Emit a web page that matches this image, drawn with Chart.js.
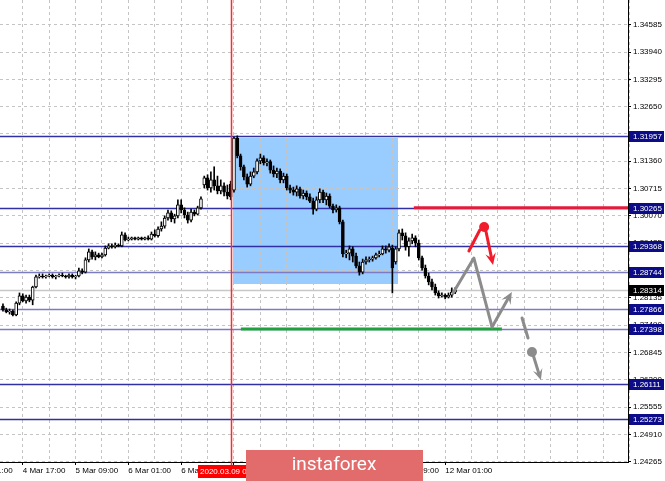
<!DOCTYPE html>
<html>
<head>
<meta charset="utf-8">
<script src="https://cdn.jsdelivr.net/npm/chart.js@4.4.1/dist/chart.umd.min.js"></script>
<style>
html, body { margin: 0; padding: 0; background: #fff; }
</style>
</head>
<body>
<canvas id="fxChart" width="665" height="481"></canvas>
<script>
// H1 candles, oldest first (bar index 0 = 4 Mar ~07:00)
const openP = [
  1.2794,1.2785,1.2780,1.2782,1.2773,1.2801,1.2818,1.2806,1.2815,1.2808,
  1.2839,1.2863,1.2865,1.2863,1.2865,1.2867,1.2863,1.2865,1.2867,1.2865,
  1.2863,1.2867,1.2863,1.2865,1.2877,1.2874,1.2903,1.2922,1.2910,1.2915,
  1.2910,1.2915,1.2931,1.2936,1.2934,1.2938,1.2936,1.2962,1.2950,1.2952,
  1.2955,1.2952,1.2955,1.2952,1.2955,1.2952,1.2964,1.2960,1.2976,1.2983,
  1.3002,1.3014,1.3000,1.3007,1.3033,1.3021,1.3009,1.2997,1.3016,1.3011,
  1.3026,1.3080,1.3097,1.3073,1.3092,1.3078,1.3066,1.3078,1.3063,1.3082,
  1.3068,1.3191,1.3149,1.3123,1.3099,1.3082,1.3101,1.3111,1.3137,1.3144,
  1.3132,1.3135,1.3115,1.3106,1.3113,1.3092,1.3101,1.3073,1.3068,1.3063,
  1.3071,1.3054,1.3061,1.3052,1.3042,1.3023,1.3045,1.3063,1.3045,1.3054,
  1.3030,1.3021,1.3026,1.2993,1.2917,1.2919,1.2929,1.2912,1.2889,1.2874,
  1.2898,1.2903,1.2905,1.2908,1.2915,1.2917,1.2929,1.2926,1.2931,1.2898,
  1.2929,1.2967,1.2960,1.2934,1.2948,1.2955,1.2943,1.2908,1.2884,1.2865,
  1.2851,1.2839,1.2825,1.2818,1.2820,1.2815,1.2820,1.2827
];
const highP = [
  1.2799,1.2789,1.2787,1.2785,1.2804,1.2825,1.2823,1.2820,1.2820,1.2841,
  1.2867,1.2870,1.2870,1.2867,1.2870,1.2870,1.2867,1.2870,1.2872,1.2867,
  1.2870,1.2870,1.2867,1.2884,1.2882,1.2908,1.2929,1.2926,1.2922,1.2919,
  1.2919,1.2936,1.2941,1.2941,1.2943,1.2941,1.2969,1.2967,1.2957,1.2957,
  1.2957,1.2957,1.2957,1.2957,1.2960,1.2969,1.2974,1.2981,1.2993,1.3007,
  1.3021,1.3019,1.3011,1.3045,1.3045,1.3026,1.3016,1.3023,1.3021,1.3030,
  1.3052,1.3101,1.3104,1.3111,1.3123,1.3101,1.3092,1.3085,1.3080,1.3089,
  1.3193,1.3196,1.3153,1.3127,1.3106,1.3111,1.3120,1.3142,1.3153,1.3149,
  1.3142,1.3139,1.3125,1.3120,1.3118,1.3108,1.3106,1.3080,1.3075,1.3078,
  1.3075,1.3068,1.3066,1.3059,1.3049,1.3052,1.3071,1.3068,1.3061,1.3059,
  1.3035,1.3033,1.3030,1.2997,1.2926,1.2936,1.2934,1.2919,1.2898,1.2905,
  1.2910,1.2910,1.2912,1.2919,1.2924,1.2936,1.2936,1.2941,1.2938,1.2934,
  1.2974,1.2976,1.2967,1.2955,1.2964,1.2960,1.2950,1.2912,1.2891,1.2872,
  1.2858,1.2846,1.2830,1.2825,1.2823,1.2825,1.2837,1.2837
];
const lowP = [
  1.2782,1.2778,1.2775,1.2771,1.2771,1.2797,1.2804,1.2801,1.2804,1.2797,
  1.2837,1.2860,1.2860,1.2860,1.2863,1.2860,1.2858,1.2863,1.2863,1.2860,
  1.2860,1.2860,1.2858,1.2863,1.2870,1.2872,1.2898,1.2905,1.2903,1.2908,
  1.2908,1.2912,1.2929,1.2931,1.2931,1.2934,1.2934,1.2948,1.2948,1.2950,
  1.2950,1.2950,1.2950,1.2950,1.2950,1.2950,1.2957,1.2957,1.2971,1.2978,
  1.2997,1.2993,1.2990,1.3002,1.3014,1.3002,1.2990,1.2993,1.3007,1.3009,
  1.3023,1.3073,1.3068,1.3063,1.3068,1.3059,1.3059,1.3054,1.3047,1.3045,
  1.3063,1.3144,1.3115,1.3092,1.3075,1.3078,1.3097,1.3106,1.3130,1.3127,
  1.3125,1.3108,1.3099,1.3097,1.3085,1.3085,1.3068,1.3061,1.3056,1.3054,
  1.3049,1.3047,1.3045,1.3038,1.3011,1.3019,1.3038,1.3038,1.3033,1.3026,
  1.3014,1.3016,1.2988,1.2910,1.2908,1.2903,1.2898,1.2884,1.2867,1.2870,
  1.2893,1.2898,1.2900,1.2905,1.2910,1.2915,1.2919,1.2922,1.2825,1.2893,
  1.2924,1.2950,1.2926,1.2912,1.2941,1.2934,1.2903,1.2879,1.2860,1.2844,
  1.2832,1.2820,1.2813,1.2815,1.2811,1.2813,1.2815,1.2823
];
const closeP = [
  1.2785,1.2780,1.2782,1.2773,1.2801,1.2818,1.2806,1.2815,1.2808,1.2839,
  1.2863,1.2865,1.2863,1.2865,1.2867,1.2863,1.2865,1.2867,1.2865,1.2863,
  1.2867,1.2863,1.2865,1.2877,1.2874,1.2903,1.2922,1.2910,1.2915,1.2910,
  1.2915,1.2931,1.2936,1.2934,1.2938,1.2936,1.2962,1.2950,1.2952,1.2955,
  1.2952,1.2955,1.2952,1.2955,1.2952,1.2964,1.2960,1.2976,1.2983,1.3002,
  1.3014,1.3000,1.3007,1.3033,1.3021,1.3009,1.2997,1.3016,1.3011,1.3026,
  1.3047,1.3097,1.3073,1.3092,1.3078,1.3066,1.3078,1.3063,1.3054,1.3052,
  1.3191,1.3149,1.3123,1.3099,1.3082,1.3101,1.3111,1.3137,1.3144,1.3132,
  1.3135,1.3115,1.3106,1.3113,1.3092,1.3101,1.3073,1.3068,1.3063,1.3071,
  1.3054,1.3061,1.3052,1.3042,1.3023,1.3045,1.3063,1.3045,1.3054,1.3030,
  1.3021,1.3026,1.2993,1.2917,1.2919,1.2929,1.2912,1.2889,1.2874,1.2898,
  1.2903,1.2905,1.2908,1.2915,1.2917,1.2929,1.2926,1.2934,1.2884,1.2929,
  1.2967,1.2960,1.2934,1.2948,1.2955,1.2943,1.2908,1.2884,1.2865,1.2851,
  1.2839,1.2825,1.2818,1.2820,1.2815,1.2820,1.2827,1.28314
];

// time axis labels (bar index -> text)
const xLabelBars = [-10, 6, 22, 38, 54, 70, 86, 102, 118, 134];
const xLabelText = ['4 Mar 01:00', '4 Mar 17:00', '5 Mar 09:00', '6 Mar 01:00', '6 Mar 17:00',
  '9 Mar 09:00', '10 Mar 01:00', '10 Mar 17:00', '11 Mar 09:00', '12 Mar 01:00'];

// price axis
const yTicks = [1.24265, 1.24910, 1.25555, 1.26200, 1.26845, 1.27490, 1.28135, 1.28780, 1.29425,
  1.30070, 1.30715, 1.31360, 1.32005, 1.32650, 1.33295, 1.33940, 1.34585];
const levels = [1.31957, 1.30265, 1.29368, 1.28744, 1.27866, 1.27398, 1.26111, 1.25273];
const lastPrice = 1.28314;

// drawn objects, in (bar, price)
const vLineBar = 69;
const vLineText = '2020.03.09 08:00';
const zoneBars = [69.7, 119.7];
const zonePrices = [1.3191, 1.2846];
const resistBars = [124.5, 200];
const resistPrice = 1.30265;
const supportBars = [72.1, 151.2];
const supportPrice = 1.27398;
const grayBars = [136.4, 142.7, 148.2, 154.2];
const grayPrices = [1.28249, 1.29075, 1.27446, 1.28273];
const redBars = [141.2, 144.5, 145.8, 146.4, 148.5];
const redPrices = [1.29241, 1.29737, 1.29808, 1.29690, 1.28910];
const grayDownBars = [157.3, 159.1, 160.3, 160.8, 163.0];
const grayDownPrices = [1.27658, 1.27186, 1.26855, 1.26750, 1.26194];

const bars = openP.map((_, i) => i);
const gridBars = [];
for (let b = -10; b <= 190; b += 8) gridBars.push(b);

Chart.defaults.font.family = "'Liberation Sans', Arial, sans-serif";
Chart.defaults.font.size = 8;
Chart.defaults.color = '#000';

function arrow(ctx, x1, y1, x2, y2, color, head) {
    const a = Math.atan2(y2 - y1, x2 - x1);
    ctx.strokeStyle = color;
    ctx.lineWidth = 3;
    ctx.beginPath();
    ctx.moveTo(x1, y1);
    ctx.lineTo(x2 - Math.cos(a) * head * 0.6, y2 - Math.sin(a) * head * 0.6);
    ctx.stroke();
    ctx.fillStyle = color;
    ctx.beginPath();
    ctx.moveTo(x2, y2);
    ctx.lineTo(x2 - head * Math.cos(a - 0.42), y2 - head * Math.sin(a - 0.42));
    ctx.lineTo(x2 - head * 0.55 * Math.cos(a), y2 - head * 0.55 * Math.sin(a));
    ctx.lineTo(x2 - head * Math.cos(a + 0.42), y2 - head * Math.sin(a + 0.42));
    ctx.closePath();
    ctx.fill();
}

const overlay = {
    id: 'overlay',
    beforeDraw(chart) {
        const {ctx, scales: {x, y}} = chart;
        ctx.save();
        ctx.fillStyle = '#fff';
        ctx.fillRect(0, 0, chart.width, chart.height);
        const x1 = Math.round(x.getPixelForValue(zoneBars[0]));
        const x2 = Math.round(x.getPixelForValue(zoneBars[1]));
        const y1 = Math.round(y.getPixelForValue(zonePrices[0]));
        const y2 = Math.round(y.getPixelForValue(zonePrices[1]));
        ctx.fillStyle = '#99ccff';
        ctx.fillRect(x1, y1, x2 - x1, y2 - y1);
        ctx.restore();
    },
    beforeDatasetsDraw(chart) {
        const {ctx, chartArea: a, scales: {x, y}} = chart;
        ctx.save();
        ctx.beginPath();
        ctx.rect(a.left, a.top, a.right - a.left, a.bottom - a.top);
        ctx.clip();
        ctx.lineWidth = 1.5;
        // current price line
        let py = Math.round(y.getPixelForValue(lastPrice)) + 0.5;
        ctx.strokeStyle = '#c8c8c8';
        ctx.beginPath(); ctx.moveTo(a.left, py); ctx.lineTo(a.right, py); ctx.stroke();
        levels.forEach((v, k) => {
            py = Math.round(y.getPixelForValue(v)) + 0.5;
            ctx.strokeStyle = (k >= 3 && k <= 5) ? '#7c7cc4' : '#3030a4';
            ctx.beginPath(); ctx.moveTo(a.left, py); ctx.lineTo(a.right, py); ctx.stroke();
        });
        ctx.lineWidth = 3;
        py = y.getPixelForValue(resistPrice);
        ctx.strokeStyle = '#e31b3c';
        ctx.beginPath();
        ctx.moveTo(x.getPixelForValue(resistBars[0]), py);
        ctx.lineTo(x.getPixelForValue(resistBars[1]), py);
        ctx.stroke();
        py = y.getPixelForValue(supportPrice);
        ctx.strokeStyle = '#1fa23c';
        ctx.beginPath();
        ctx.moveTo(x.getPixelForValue(supportBars[0]), py);
        ctx.lineTo(x.getPixelForValue(supportBars[1]), py);
        ctx.stroke();
        ctx.restore();
    },
    afterDatasetsDraw(chart) {
        const {ctx, chartArea: a, scales: {x, y}} = chart;
        const P = (b, p) => [x.getPixelForValue(b), y.getPixelForValue(p)];
        ctx.save();
        // vertical date line
        const vx = Math.round(x.getPixelForValue(vLineBar)) + 0.5;
        ctx.strokeStyle = '#ff2a2a';
        ctx.lineWidth = 1.5;
        ctx.beginPath(); ctx.moveTo(vx, a.top); ctx.lineTo(vx, a.bottom + 3); ctx.stroke();
        ctx.lineCap = 'round';
        ctx.lineJoin = 'round';
        // gray scenario
        const g = grayBars.map((b, i) => P(b, grayPrices[i]));
        ctx.strokeStyle = '#8c8c8c';
        ctx.lineWidth = 3;
        ctx.beginPath();
        ctx.moveTo(g[0][0], g[0][1]);
        ctx.lineTo(g[1][0], g[1][1]);
        ctx.lineTo(g[2][0], g[2][1]);
        ctx.stroke();
        arrow(ctx, g[2][0], g[2][1], g[3][0], g[3][1], '#8c8c8c', 13);
        // red scenario
        const r = redBars.map((b, i) => P(b, redPrices[i]));
        ctx.strokeStyle = '#f01c2c';
        ctx.beginPath(); ctx.moveTo(r[0][0], r[0][1]); ctx.lineTo(r[1][0], r[1][1]); ctx.stroke();
        ctx.fillStyle = '#f01c2c';
        ctx.beginPath(); ctx.arc(r[2][0], r[2][1], 5, 0, Math.PI * 2); ctx.fill();
        arrow(ctx, r[3][0], r[3][1], r[4][0], r[4][1], '#f01c2c', 13);
        // gray continuation
        const d = grayDownBars.map((b, i) => P(b, grayDownPrices[i]));
        ctx.strokeStyle = '#8c8c8c';
        ctx.beginPath(); ctx.moveTo(d[0][0], d[0][1]); ctx.lineTo(d[1][0], d[1][1]); ctx.stroke();
        ctx.fillStyle = '#8c8c8c';
        ctx.beginPath(); ctx.arc(d[2][0], d[2][1], 5, 0, Math.PI * 2); ctx.fill();
        arrow(ctx, d[3][0], d[3][1], d[4][0], d[4][1], '#8c8c8c', 12);
        ctx.restore();
    },
    afterDraw(chart) {
        const {ctx, chartArea: a, scales: {x, y}} = chart;
        ctx.save();
        ctx.font = "8px 'Liberation Sans', Arial, sans-serif";
        ctx.textBaseline = 'middle';
        ctx.textAlign = 'left';
        const box = (v, bg) => {
            const by = Math.round(y.getPixelForValue(v));
            ctx.fillStyle = bg;
            ctx.fillRect(a.right + 1, by - 5, 35, 11);
            ctx.fillStyle = '#fff';
            ctx.fillText(v.toFixed(5), a.right + 5, by + 0.5);
        };
        levels.forEach(v => box(v, '#0c0c88'));
        box(lastPrice, '#000');
        // date label of the vertical line
        const vx = Math.round(x.getPixelForValue(vLineBar));
        ctx.fillStyle = '#ff0000';
        ctx.fillRect(vx - 33, a.bottom + 3, 68, 13);
        ctx.fillStyle = '#fff';
        ctx.fillText(vLineText, vx - 31, a.bottom + 10);
        // watermark
        ctx.fillStyle = '#e26b6b';
        ctx.fillRect(246, 450, 177, 31);
        ctx.fillStyle = '#fff';
        ctx.textAlign = 'center';
        ctx.font = "19px Roboto, 'Open Sans', sans-serif";
        ctx.fillText('instaforex', 334, 465);
        ctx.restore();
    }
};

const canvas = document.getElementById('fxChart');
if (canvas) {
    new Chart(canvas.getContext('2d'), {
        type: 'bar',
        data: {
            datasets: [{
                label: 'wick',
                data: bars.map(i => ({x: i, y: [lowP[i], highP[i]]})),
                backgroundColor: '#000',
                barThickness: 1,
                grouped: false,
                order: 2
            }, {
                label: 'body',
                data: bars.map(i => ({x: i, y: [openP[i], closeP[i]]})),
                backgroundColor: bars.map(i => closeP[i] >= openP[i] ? '#fff' : '#000'),
                borderColor: '#000',
                borderWidth: 1,
                borderSkipped: false,
                barThickness: 3,
                grouped: false,
                order: 1
            }]
        },
        options: {
            responsive: false,
            animation: false,
            layout: { padding: 0 },
            plugins: { legend: { display: false }, tooltip: { enabled: false } },
            scales: {
                x: {
                    type: 'linear',
                    min: -0.9,
                    max: 189.4,
                    offset: false,
                    afterBuildTicks: axis => { axis.ticks = gridBars.map(v => ({value: v})); },
                    afterFit: axis => { axis.height = 19; axis.paddingLeft = 0; axis.paddingRight = 0; },
                    ticks: {
                        align: 'start',
                        autoSkip: false,
                        maxRotation: 0,
                        padding: 1,
                        callback: v => {
                            const k = xLabelBars.indexOf(v);
                            return k >= 0 ? xLabelText[k] : '';
                        }
                    },
                    grid: {
                        offset: false,
                        color: '#c4c4c4',
                        tickLength: 3,
                        tickBorderDash: [],
                        tickColor: c => xLabelBars.indexOf(c.tick && c.tick.value) >= 0 ? '#000' : 'rgba(0,0,0,0)'
                    },
                    border: { display: true, color: '#000', width: 1, dash: [3, 3] }
                },
                y: {
                    position: 'right',
                    min: 1.24257,
                    max: 1.35169,
                    afterBuildTicks: axis => { axis.ticks = yTicks.map(v => ({value: v})); },
                    afterFit: axis => { axis.width = 37; axis.paddingTop = 0; axis.paddingBottom = 0; },
                    ticks: {
                        autoSkip: false,
                        padding: 2,
                        callback: v => v.toFixed(5)
                    },
                    grid: {
                        color: '#c4c4c4',
                        tickLength: 3,
                        tickBorderDash: [],
                        tickColor: '#000'
                    },
                    border: { display: true, color: '#000', width: 1, dash: [3, 3] }
                }
            }
        },
        plugins: [overlay]
    });
} else {
    console.error('Chart canvas not found!');
}
</script>
</body>
</html>
